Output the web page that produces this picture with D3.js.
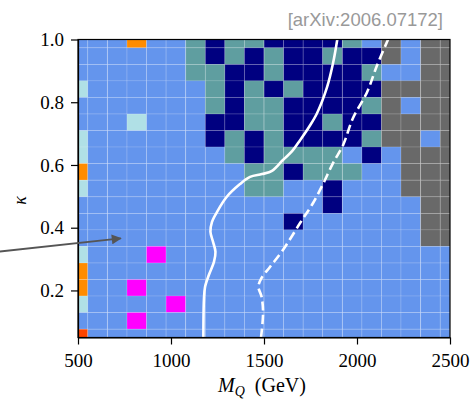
<!DOCTYPE html>
<html>
<head>
<meta charset="utf-8">
<script src="https://cdn.jsdelivr.net/npm/d3@7"></script>
<style>
  body { margin: 0; background: #fff; }
</style>
</head>
<body>
<script>
// Scan grid: heavy quark mass (columns) and kappa (rows)
var massValues = [500, 605, 711, 816, 921, 1026, 1132, 1237, 1342, 1447,
                  1553, 1658, 1763, 1868, 1974, 2079, 2184, 2289, 2395, 2500];
var kappaValues = [0.050, 0.103, 0.156, 0.208, 0.261, 0.314, 0.367, 0.419, 0.472, 0.525,
                   0.578, 0.631, 0.683, 0.736, 0.789, 0.842, 0.894, 0.947, 1.000];

// Category of each cell, one string per kappa row (top row = kappa 1.0), one letter per mass column
var cellRows = [
  "BBBOBBTNTTNNNNTBGBGG",
  "BBBBBBTNTNTNNTNNGBGG",
  "BBBBBBTTNNTNNNNTBBGG",
  "LBBBBBBTNTNTNNNNGGGG",
  "BBBBBBBTNTTNNNNTGBGG",
  "BBBLBBBNNTTNNTNNGGGG",
  "LBBBBBBNTNTNNNNTGGBG",
  "LBBBBBBBTNTTTTBNBGGG",
  "OBBBBBBBBTTNTTTBBGGG",
  "LBBBBBBBBTTBBNBBBGGG",
  "BBBBBBBBBBBBBNBBBBGG",
  "BBBBBBBBBBBNBBBBBBGG",
  "BBBBBBBBBBBBBBBBBBGG",
  "LBBBMBBBBBBBBBBBBBBB",
  "OBBBBBBBBBBBBBBBBBBB",
  "OBBMBBBBBBBBBBBBBBBB",
  "LBBBBMBBBBBBBBBBBBBB",
  "BBBMBBBBBBBBBBBBBBBB",
  "RBBBBBBBBBBBBBBBBBBB"
];
var categories = ["B", "L", "O", "R", "M", "T", "N", "G"];

// Exclusion contours
var solidMass  = [1174, 1177, 1183, 1204, 1231, 1239, 1226, 1212, 1220, 1247, 1299, 1371, 1425,
                  1489, 1543, 1602, 1651, 1694, 1742, 1785, 1839, 1871, 1894];
var solidKappa = [0.05, 0.170, 0.211, 0.250, 0.291, 0.323, 0.355, 0.387, 0.418, 0.450, 0.498, 0.539, 0.562,
                  0.571, 0.581, 0.616, 0.644, 0.679, 0.721, 0.765, 0.848, 0.924, 1.0];
var dashedMass  = [1484, 1495, 1487, 1470, 1487, 1532, 1602, 1694, 1763, 1817, 1871, 1925,
                   1978, 2054, 2108, 2167];
var dashedKappa = [0.05, 0.129, 0.180, 0.212, 0.240, 0.275, 0.329, 0.415, 0.478, 0.539, 0.606, 0.663,
                   0.749, 0.832, 0.918, 1.0];

// Annotation arrow (mass, kappa), from outside the frame to the tip
var arrowMass  = [80, 730];
var arrowKappa = [0.324, 0.366];

var xTicks = [500, 1000, 1500, 2000, 2500];
var yTicks = [0.2, 0.4, 0.6, 0.8, 1.0];

// Page dimensions
var margin = { top: 39.5, right: 23, bottom: 61.5, left: 78 },
    width = 473 - margin.left - margin.right,
    height = 399 - margin.top - margin.bottom;

var serif = "'Liberation Serif', 'DejaVu Serif', serif";

var colour = d3.scaleOrdinal()
  .domain(categories)
  .range(["#6495ED", "#B0E0E6", "#FF8C00", "#FF4500", "#FF00FF", "#5F9EA0", "#000080", "#696969"]);

var x = d3.scaleLinear().domain([500, 2500]).range([0, width]);
var y = d3.scaleLinear().domain([0.05, 1.0]).range([height, 0]);

var svg = d3.select("body").append("svg")
  .attr("width", 473)
  .attr("height", 399);

var chart = svg.append("g")
  .attr("transform", "translate(" + margin.left + "," + margin.top + ")");

chart.append("clipPath").attr("id", "plotclip")
  .append("rect").attr("width", width).attr("height", height);

var plot = chart.append("g").attr("clip-path", "url(#plotclip)");

// Cells
var dm = massValues[1] - massValues[0];
var dk = kappaValues[1] - kappaValues[0];
var cells = [];
cellRows.forEach(function(row, r) {
  var k = kappaValues[kappaValues.length - 1 - r];
  row.split("").forEach(function(c, i) {
    cells.push({ m: massValues[i], k: k, cat: c });
  });
});

plot.selectAll(".cell")
  .data(cells)
  .enter().append("rect")
  .attr("class", "cell")
  .attr("x", function(d) { return x(d.m - dm / 2); })
  .attr("y", function(d) { return y(d.k + dk / 2); })
  .attr("width", x(500 + dm) - x(500))
  .attr("height", y(0.05) - y(0.05 + dk))
  .attr("fill", function(d) { return colour(d.cat); })
  .attr("stroke", "rgba(255,255,255,0.2)")
  .attr("stroke-width", 0.8);

// Contours
var line = d3.line()
  .x(function(d) { return x(d[0]); })
  .y(function(d) { return y(d[1]); })
  .curve(d3.curveCatmullRom);

plot.append("path")
  .attr("d", line(d3.zip(solidMass, solidKappa)))
  .attr("fill", "none")
  .attr("stroke", "#fff")
  .attr("stroke-width", 2.6);

plot.append("path")
  .attr("d", line(d3.zip(dashedMass, dashedKappa)))
  .attr("fill", "none")
  .attr("stroke", "#fff")
  .attr("stroke-width", 2.6)
  .attr("stroke-dasharray", "9,4.5");

// Axes
var xAxisG = chart.append("g")
  .attr("class", "x axis")
  .attr("transform", "translate(0," + height + ")")
  .call(d3.axisBottom(x).tickValues(xTicks).tickFormat(d3.format("d"))
    .tickSize(7).tickPadding(9).tickSizeOuter(0));

var yAxisG = chart.append("g")
  .attr("class", "y axis")
  .call(d3.axisLeft(y).tickValues(yTicks).tickFormat(d3.format(".1f"))
    .tickSize(7).tickPadding(7).tickSizeOuter(0));

[xAxisG, yAxisG].forEach(function(g) {
  g.selectAll("text")
    .style("font-family", serif)
    .style("font-size", "19px")
    .attr("fill", "#000");
  g.selectAll("line, path").attr("stroke", "#000").attr("stroke-width", 1.2);
});

// Frame
chart.append("rect")
  .attr("width", width)
  .attr("height", height)
  .attr("fill", "none")
  .attr("stroke", "#000")
  .attr("stroke-width", 1.2);

// Axis labels
var xl = chart.append("text")
  .attr("x", width / 2 - 2)
  .attr("y", height + 54)
  .attr("text-anchor", "middle")
  .style("font-family", serif)
  .style("font-size", "20px");
xl.append("tspan").style("font-style", "italic").text("M");
xl.append("tspan").attr("dy", 4).style("font-style", "italic").style("font-size", "14px").text("Q");
xl.append("tspan").attr("dy", -4).text("\u2002(GeV)");

chart.append("text")
  .attr("transform", "translate(" + (-52) + "," + 161 + ") rotate(-90)")
  .attr("text-anchor", "middle")
  .style("font-family", serif)
  .style("font-style", "italic")
  .style("font-size", "18px")
  .text("\u03BA");

// Arrow annotation
svg.append("defs").append("marker")
  .attr("id", "head")
  .attr("viewBox", "0 0 10 10")
  .attr("refX", 9)
  .attr("refY", 5)
  .attr("markerWidth", 6)
  .attr("markerHeight", 5)
  .attr("markerUnits", "strokeWidth")
  .attr("orient", "auto")
  .append("path")
  .attr("d", "M0,0L10,5L0,10z")
  .attr("fill", "#555");

chart.append("line")
  .attr("x1", x(arrowMass[0]))
  .attr("y1", y(arrowKappa[0]))
  .attr("x2", x(arrowMass[1]))
  .attr("y2", y(arrowKappa[1]))
  .attr("stroke", "#555")
  .attr("stroke-width", 2)
  .attr("marker-end", "url(#head)");

// Source tag
svg.append("text")
  .attr("x", 443)
  .attr("y", 26)
  .attr("text-anchor", "end")
  .style("font-family", "'Liberation Sans', Arial, sans-serif")
  .style("font-size", "18.5px")
  .style("fill", "#999")
  .text("[arXiv:2006.07172]");
</script>
</body>
</html>
